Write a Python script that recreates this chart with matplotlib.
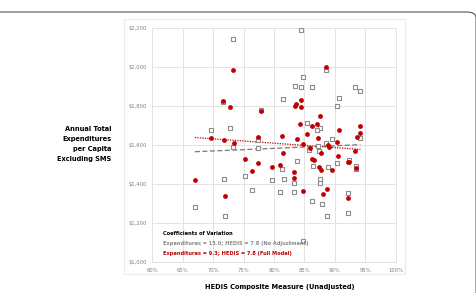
import matplotlib.pyplot as plt
import matplotlib.ticker as mticker
from matplotlib.patches import FancyBboxPatch, Rectangle
import numpy as np

# HEDIS composite (%) and expenditures per capita, unadjusted (gray squares)
raw_x = [73.2, 84.4, 88.5, 84.7, 83.5, 84.5, 86.3, 93.3, 94.2, 81.5, 90.6, 90.4,
         71.6, 77.9, 69.6, 72.7, 85.4, 87.6, 87.1, 77.4, 73.3, 77.3, 87.3, 88.5,
         89.5, 85.8, 87.4, 94.1, 83.8, 86.4, 88.9, 90.4, 92.4, 93.5, 93.5, 81.3,
         75.2, 71.8, 79.6, 81.6, 83.3, 87.6, 87.6, 76.4, 81.0, 83.3, 92.2, 67.0,
         71.9, 86.2, 87.9, 88.7, 92.1, 84.7]
raw_y = [2143, 2189, 1983, 1949, 1901, 1894, 1898, 1898, 1875, 1834, 1840, 1800,
         1817, 1778, 1677, 1686, 1713, 1686, 1674, 1625, 1590, 1584, 1596, 1608,
         1628, 1573, 1570, 1636, 1517, 1491, 1488, 1507, 1520, 1493, 1474, 1474,
         1440, 1427, 1418, 1423, 1406, 1427, 1403, 1370, 1360, 1360, 1355, 1282,
         1235, 1312, 1299, 1235, 1251, 1109]

# full model (red dots)
adj_x = [73.2, 88.5, 71.6, 72.7, 77.9, 83.6, 83.5, 84.5, 84.4, 87.6, 84.2, 86.3,
         87.1, 90.7, 94.2, 85.4, 87.3, 94.1, 93.6, 69.6, 71.8, 73.4, 77.4, 81.3,
         83.7, 84.7, 85.9, 88.8, 89.1, 90.4, 93.3, 81.4, 87.7, 75.2, 86.2, 86.5,
         90.5, 77.4, 79.7, 81.0, 87.4, 87.8, 89.5, 92.1, 92.4, 93.5, 76.4, 83.3,
         83.3, 67.0, 71.9, 84.7, 88.0, 88.7, 92.1]
adj_y = [1981, 2000, 1826, 1795, 1773, 1811, 1800, 1828, 1792, 1746, 1705, 1698,
         1708, 1676, 1696, 1657, 1635, 1659, 1642, 1635, 1626, 1611, 1640, 1645,
         1628, 1602, 1584, 1597, 1590, 1616, 1570, 1556, 1558, 1526, 1529, 1524,
         1541, 1505, 1488, 1497, 1488, 1471, 1473, 1512, 1512, 1481, 1464, 1461,
         1430, 1418, 1338, 1363, 1350, 1374, 1329]

x_ticks = [60, 65, 70, 75, 80, 85, 90, 95, 100]
y_ticks = [1000, 1200, 1400, 1600, 1800, 2000, 2200]

RED = "#C00000"
GRAY = "#8c8c8c"
GRID = "#e3e3e3"
FONT = dict(family="DejaVu Sans", fontstretch="condensed", fontweight="bold")

fig = plt.figure(figsize=(4.77, 2.93), dpi=100)

# outer rounded frame (runs off left/bottom edges)
fig.patches.append(FancyBboxPatch((-0.05, -0.1), 1.048, 1.059,
                                  boxstyle="round,pad=0,rounding_size=0.02",
                                  transform=fig.transFigure, fill=False,
                                  edgecolor="#555555", linewidth=0.8))
# chart area box
fig.patches.append(Rectangle((124 / 477, 1 - 274 / 293), 281 / 477, 255 / 293,
                             transform=fig.transFigure, fill=False,
                             edgecolor="#ececec", linewidth=0.8))

ax = fig.add_axes([0.3193, 0.1058, 0.5103, 0.7997])
ax.set_xlim(60, 100)
ax.set_ylim(1000, 2200)
ax.set_xticks(x_ticks)
ax.set_yticks(y_ticks)
ax.xaxis.set_major_formatter(mticker.FuncFormatter(lambda v, _: f"{v:.0f}%"))
ax.yaxis.set_major_formatter(mticker.FuncFormatter(lambda v, _: f"${v:,.0f}"))
ax.tick_params(length=0, labelsize=3.8, labelcolor="#808080", pad=4)
ax.grid(True, color=GRID, linewidth=0.7)
ax.set_axisbelow(True)
for s in ax.spines.values():
    s.set_color(GRID)
    s.set_linewidth(0.7)

ax.scatter(raw_x, raw_y, marker="s", s=7, facecolor="white",
           edgecolor=GRAY, linewidth=0.8, zorder=3)
ax.scatter(adj_x, adj_y, marker="o", s=12, color=RED, linewidth=0, zorder=4)

# linear trend lines
for xs, ys, col, ls in [(raw_x, raw_y, "#777777", (0, (4, 2))),
                        (adj_x, adj_y, RED, (0, (1, 1)))]:
    m, b = np.polyfit(xs, ys, 1)
    xx = np.array([min(xs), max(xs)])
    ax.plot(xx, m * xx + b, color=col, linestyle=ls, linewidth=0.9, zorder=2)

fig.text(111.7 / 477, 1 - 144 / 293,
         "Annual Total\nExpenditures\nper Capita\nExcluding SMS",
         ha="right", va="center", fontsize=5.3, linespacing=1.75, **FONT)
fig.text(279.7 / 477, 1 - 287.5 / 293, "HEDIS Composite Measure (Unadjusted)",
         ha="center", va="center", fontsize=5.3, **FONT)

ax.text(162.7 / 477, 1 - 233.3 / 293, "Coefficients of Variation",
        transform=fig.transFigure, ha="left", va="center", fontsize=4.1,
        color="black", **FONT)
ax.text(162.7 / 477, 1 - 243.3 / 293,
        "Expenditures = 15.0; HEDIS = 7.8 (No Adjustment)",
        transform=fig.transFigure, ha="left", va="center", fontsize=4.1,
        color="#8a8a8a", **FONT)
ax.text(162.7 / 477, 1 - 253.3 / 293,
        "Expenditures = 9.3; HEDIS = 7.8 (Full Model)",
        transform=fig.transFigure, ha="left", va="center", fontsize=4.1,
        color=RED, **FONT)

fig.savefig("out.png", dpi=100)
